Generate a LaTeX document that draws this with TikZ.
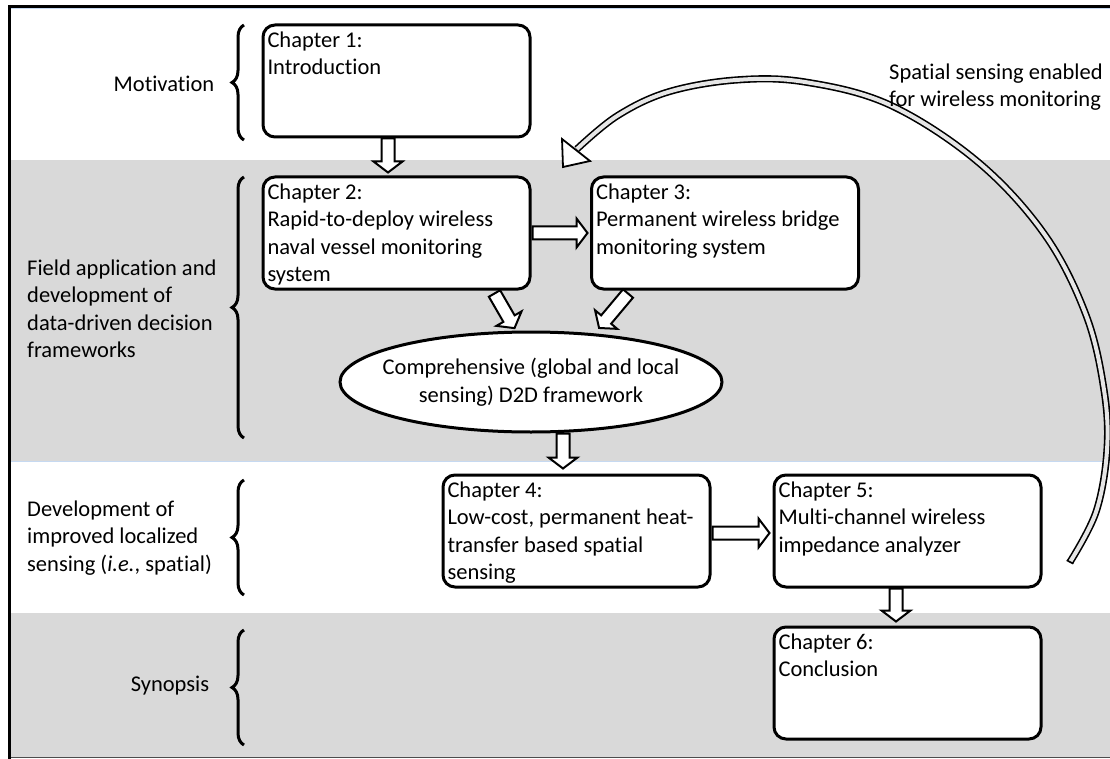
\documentclass[tikz,border=0pt]{standalone}
\usepackage{fontspec}
\setmainfont{Carlito}[Ligatures={NoCommon}]
\usetikzlibrary{calc,decorations.pathreplacing,shapes.geometric}
\definecolor{bandgray}{HTML}{D9D9D9}
\definecolor{paleblue}{HTML}{C6D9F1}
\definecolor{shaftgray}{HTML}{E6E6E6}
\newcommand\boxtext[1]{\parbox[c][106pt][t]{258pt}{\raggedright\strut#1}}
\begin{document}
\begin{tikzpicture}[x=1pt,y=-1pt,
  txt/.style={font=\fontsize{22.5}{27.5}\selectfont, inner sep=0pt},
  chbox/.style={draw, line width=3pt, rounded corners=12pt, fill=white, inner sep=0pt,
    minimum width=267pt, minimum height=112pt, font=\fontsize{22.5}{27.5}\selectfont},
  brc/.style={decorate, decoration={brace, amplitude=12pt}, line width=3pt},
  blk/.style={line width=2pt, fill=white, line join=miter},
  pics/barrow/.style={code={\draw[blk] (0,-6.5) -- (#1-11,-6.5) -- (#1-11,-14.5) -- (#1,0) -- (#1-11,14.5) -- (#1-11,6.5) -- (0,6.5) -- cycle;}}
]
\useasboundingbox (0,0) rectangle (1110,759);
\fill[white] (0,0) rectangle (1110,759);
% bands
\fill[bandgray] (8,160) rectangle (1110,461);
\fill[bandgray] (8,613) rectangle (1110,757);
\draw[paleblue, line width=1pt] (8,461.5) -- (1110,461.5);
\draw[paleblue, line width=1pt] (11,9) -- (1110,9);
% frame
\draw[gray!60!black, line width=1.2pt] (9,757.5) -- (1110,757.5);
\draw[line width=3.5pt] (9.5,759) -- (9.5,6.5) -- (1110,6.5);

% braces
\draw[brc] (244,140) -- (244,25);
\draw[brc] (244,438) -- (244,177);
\draw[brc] (244,595) -- (244,480);
\draw[brc] (244,745) -- (244,630);

% left labels
\node[txt] (lmot) at (164,84) {Motivation};
\node[txt, anchor=west, align=left] (lfield) at (27,309) {Field application and\\development of\\data-driven decision\\frameworks};
\node[txt, anchor=west, align=left] (ldev) at (27,538) {Development of\\improved localized\\sensing (\textit{i.e.}, spatial)};
\node[txt] (lsyn) at (170,686) {Synopsis};

% chapter boxes
\node[chbox] (ch1) at (396.5,81) {\boxtext{Chapter 1:\\Introduction}};
\node[chbox] (ch2) at (396.5,233) {\boxtext{Chapter 2:\\Rapid-to-deploy wireless\\naval vessel monitoring\\system}};
\node[chbox] (ch3) at (725,233) {\boxtext{Chapter 3:\\Permanent wireless bridge\\monitoring system}};
\node[draw, ellipse, line width=3pt, fill=white, minimum width=382pt, minimum height=100pt, inner sep=0pt] (fw) at (531,382) {};
\node[txt, align=center] (fwtext) at (fw.center) {Comprehensive (global and local\\sensing) D2D framework};
\node[chbox] (ch4) at (576.5,531) {\boxtext{Chapter 4:\\Low-cost, permanent heat-\\transfer based spatial\\sensing}};
\node[chbox] (ch5) at (907.5,531) {\boxtext{Chapter 5:\\Multi-channel wireless\\impedance analyzer}};
\node[chbox] (ch6) at (907.5,683) {\boxtext{Chapter 6:\\Conclusion}};

% block arrows
\pic[rotate=-90] at ($(ch1.south)+(-8.5,0)$) {barrow=34};
\pic at ($(ch2.east)+(1,0)$) {barrow=55};
\pic[rotate=-60] at ($(ch2.south east)+(-37,3)$) {barrow=40};
\pic[rotate=-130] at ($(ch3.south west)+(38,3)$) {barrow=45};
\pic[rotate=-90] at ($(fw.south)+(32,0)$) {barrow=35};
\pic at ($(ch4.east)+(1,2)$) {barrow=57};
\pic[rotate=-90] at ($(ch5.south)+(-11.5,0)$) {barrow=33};

% curved feedback arrow
\coordinate (tail) at (1070,562);
\coordinate (headbase) at (577,149);
\draw[line width=1.6pt, double=shaftgray, double distance=4pt]
  plot[smooth, tension=0.6] coordinates {(tail) (1096,512) (1107,450) (1104,390) (1086,315) (1045,235) (978,162) (890,105) (805,82) (736,80) (668,92) (617,116) (headbase)};
\draw[line width=1.6pt] ($(tail)+(3.3,1.7)$) -- ($(tail)+(-3.3,-1.7)$);
\draw[line width=1.8pt, fill=white, line join=miter] (590,161) -- (563,167) -- (562,139) -- cycle;
\node[txt, anchor=west, align=left] (fbtext) at (889,87) {Spatial sensing enabled\\for wireless monitoring};
\end{tikzpicture}
\end{document}
